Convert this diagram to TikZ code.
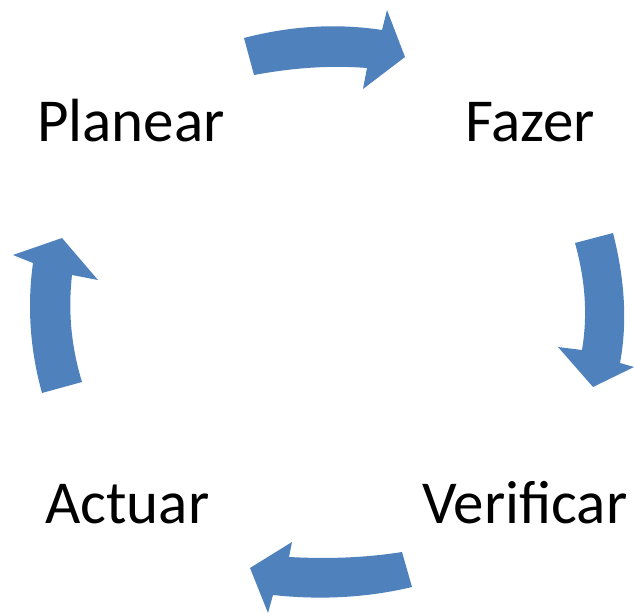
\documentclass[tikz,border=0pt]{standalone}
\usepackage{fontspec}
\setmainfont{Carlito}
\definecolor{arrowblue}{HTML}{4F81BD}
\begin{document}
\begin{tikzpicture}[x=1pt,y=-1pt,
  lbl/.style={inner sep=0pt, anchor=base west, font=\fontsize{61}{70}\selectfont},
  bigarrow/.style={fill=arrowblue, draw=none}]
\useasboundingbox (0,0) rectangle (634,615);
% labels
\node[lbl] (planear) at (37,142) {Planear};
\node[lbl] (fazer) at (465,142) {Fazer};
\node[lbl] (verificar) at (422,523) {Verificar};
\node[lbl] (actuar) at (45,523) {Actuar};
% top arrow (Planear -> Fazer)
\fill[bigarrow] (244,38) .. controls (290,26) and (336,23) .. (382,30)
  -- (387,10) -- (405,57) -- (363,89) -- (367,68)
  .. controls (329,65) and (292,68) .. (254,75) -- cycle;
% right arrow (Fazer -> Verificar)
\fill[bigarrow] (575,243) -- (613,233) .. controls (624,276) and (628,320) .. (620,363)
  -- (634,367) -- (593,387) -- (558,347) -- (582,350)
  .. controls (588,314) and (585,279) .. (575,243) -- cycle;
% bottom arrow (Verificar -> Actuar)
\fill[bigarrow] (402,552) -- (412,587) .. controls (366,598) and (319,600) .. (273,595)
  -- (268,613) -- (250,568) -- (292,542) -- (289,557)
  .. controls (327,559) and (364,558) .. (402,552) -- cycle;
% left arrow (Actuar -> Planear)
\fill[bigarrow] (42,393) -- (82,382) .. controls (71,346) and (68,311) .. (72,275)
  -- (98,280) -- (62,238) -- (13,255) -- (33,263)
  .. controls (27,306) and (30,350) .. (42,393) -- cycle;
\end{tikzpicture}
\end{document}
